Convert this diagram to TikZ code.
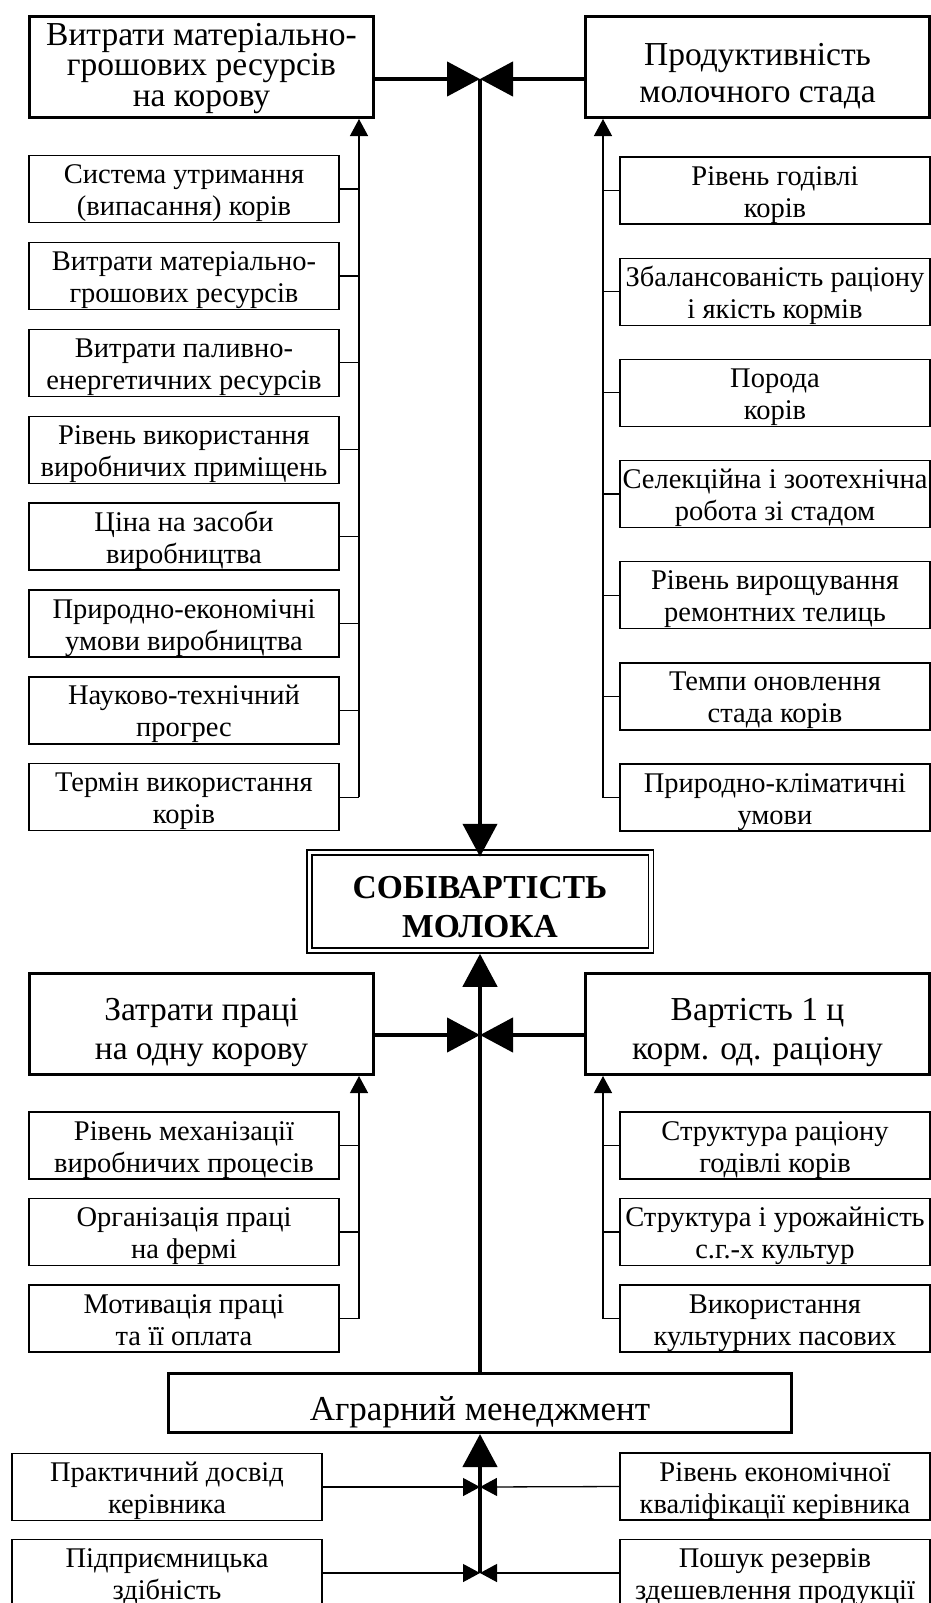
\documentclass[tikz,border=0pt]{standalone}
\usepackage{fontspec}
\setmainfont{Liberation Serif}
\usetikzlibrary{arrows.meta}

\begin{document}
\begin{tikzpicture}[x=1pt,y=-1pt,
    tall/.style 2 args={execute at begin node={\rule{0pt}{#1}},
        execute at end node={\rule[-#2]{0pt}{0pt}}},
    boxbase/.style={draw,line width=3pt,minimum width=344pt,minimum height=101pt,
        inner sep=0pt,align=center,font=\fontsize{33.5}{39}\selectfont},
    bigbox/.style={boxbase,tall={86pt}{15pt}},
    factor/.style={draw,line width=1.3pt,minimum width=310pt,minimum height=67pt,
        inner sep=0pt,align=center,font=\fontsize{28.5}{32}\selectfont,tall={60pt}{7pt}},
    mainbox/.style={draw,double,line width=1.5pt,double distance=3.5pt,
        minimum width=341.5pt,minimum height=98pt,inner sep=0pt,align=center,
        font=\fontsize{33.5}{39}\selectfont\bfseries,tall={84.5pt}{13.5pt}},
    mgmtbox/.style={draw,line width=3pt,minimum width=623pt,minimum height=59pt,
        inner sep=0pt,font=\fontsize{35}{40}\selectfont,tall={46.5pt}{12.5pt}},
    bus/.style={line width=1.3pt},
    thickarrow/.style={line width=4.5pt,-{Triangle[length=33pt,width=34pt]}},
    thinarrow/.style={line width=1.3pt,-{Triangle[length=17pt,width=18pt]}}]

    \clip (0,0) rectangle (931,1603);

    \node[boxbase,font=\fontsize{33.5}{30.5}\selectfont,tall={90pt}{11pt}] (material) at (201.5,67)
        {Витрати матеріально-\\грошових ресурсів\\на корову};
    \node[boxbase,tall={86pt}{15pt},font=\fontsize{33.5}{37}\selectfont] (product) at (757.5,67)
        {Продуктивність\\молочного стада};
    \node[mainbox] (milk) at (480,901.5) {СОБІВАРТІСТЬ\\МОЛОКА};
    \node[bigbox] (labour) at (201.5,1024) {Затрати праці\\на одну корову};
    \node[bigbox] (feed) at (757.5,1024) {Вартість 1 ц\\корм. од. раціону};
    \node[mgmtbox] (mgmt) at (480,1403) {Аграрний менеджмент};

    \foreach \t [count=\i] in {{Система утримання\\(випасання) корів},
            {Витрати матеріально-\\грошових ресурсів},
            {Витрати паливно-\\енергетичних ресурсів},
            {Рівень використання\\виробничих приміщень},
            {Ціна на засоби\\виробництва},
            {Природно-економічні\\умови виробництва},
            {Науково-технічний\\прогрес},
            {Термін використання\\корів}}
        \node[factor] (lf\i) at (184,{189+86.9*(\i-1)}) {\t};

    \foreach \t [count=\i] in {{Рівень годівлі\\корів},
            {Збалансованість раціону\\і якість кормів},
            {Порода\\корів},
            {Селекційна і зоотехнічна\\робота зі стадом},
            {Рівень вирощування\\ремонтних телиць},
            {Темпи оновлення\\стада корів},
            {Природно-кліматичні\\умови}}
        \node[factor] (rf\i) at (775,{190.5+101.17*(\i-1)}) {\t};

    \foreach \t [count=\i] in {{Рівень механізації\\виробничих процесів},
            {Організація праці\\на фермі},
            {Мотивація праці\\та її оплата}}
        \node[factor] (ll\i) at (184,{1145.5+86.5*(\i-1)}) {\t};

    \foreach \t [count=\i] in {{Структура раціону\\годівлі корів},
            {Структура і урожайність\\с.г.-х культур},
            {Використання\\культурних пасових}}
        \node[factor] (lr\i) at (775,{1145.5+86.5*(\i-1)}) {\t};

    \node[factor] (pb1) at (167,1487) {Практичний досвід\\керівника};
    \node[factor] (pb2) at (167,1573) {Підприємницька\\здібність};
    \node[factor] (pb3) at (775,1486.5) {Рівень економічної\\кваліфікації керівника};
    \node[factor] (pb4) at (775,1573) {Пошук резервів\\здешевлення продукції};

    \coordinate (lbus) at (359,0);
    \coordinate (rbus) at (603,0);
    \coordinate (tj) at (480,79);
    \coordinate (mj) at (480,1035);

    \foreach \i in {1,...,8}
        \draw[bus] (lf\i.east) -- (lf\i.east -| lbus);
    \draw[thinarrow] (lf8.east -| lbus) -- (lbus |- material.south);
    \foreach \i in {1,...,7}
        \draw[bus] (rf\i.west) -- (rf\i.west -| rbus);
    \draw[thinarrow] (rf7.west -| rbus) -- (rbus |- product.south);

    \foreach \i in {1,2,3} {
        \draw[bus] (ll\i.east) -- (ll\i.east -| lbus);
        \draw[bus] (lr\i.west) -- (lr\i.west -| rbus);
    }
    \draw[thinarrow] (ll3.east -| lbus) -- (lbus |- labour.south);
    \draw[thinarrow] (lr3.west -| rbus) -- (rbus |- feed.south);

    \draw[thickarrow] (material.east |- tj) -- (tj);
    \draw[thickarrow] (product.west |- tj) -- (tj);
    \draw[thickarrow] (tj) -- ([yshift=-5pt]milk.north);

    \draw[thickarrow] (labour.east |- mj) -- (mj);
    \draw[thickarrow] (feed.west |- mj) -- (mj);
    \draw[thickarrow] (mgmt.north) -- ([yshift=-2.5pt]milk.south);

    \coordinate (bj1) at (480,1487);
    \coordinate (bj2) at (480,1573);
    \draw[thickarrow] (bj2) -- (mgmt.south);
    \draw[thinarrow] (pb1.east) -- (bj1);
    \draw[thinarrow] (pb3.west) -- (bj1);
    \draw[thinarrow] (pb2.east) -- (bj2);
    \draw[thinarrow] (pb4.west) -- (bj2);
\end{tikzpicture}
\end{document}
